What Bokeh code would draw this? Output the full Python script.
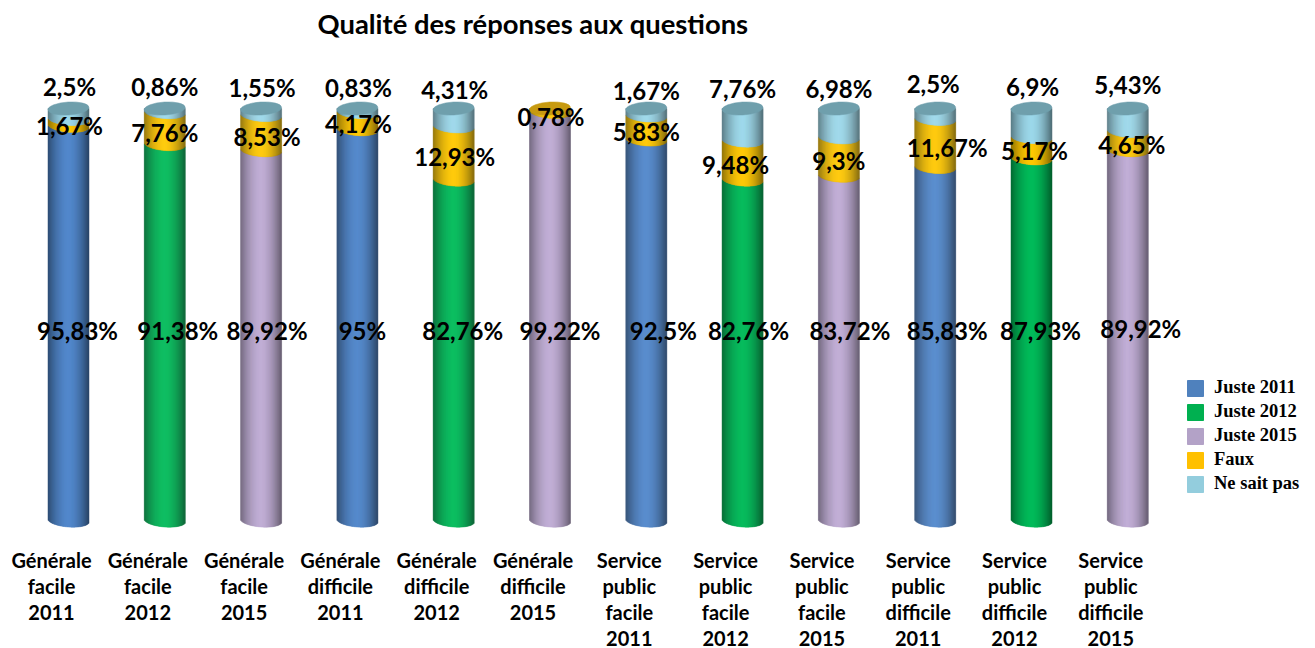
import math
from bokeh.embed import file_html
from bokeh.resources import INLINE
from bokeh.plotting import figure
from bokeh.models import ColumnDataSource, FixedTicker, Legend, LegendItem, Label
from bokeh.core.properties import value

TITLE = "Qualité des réponses aux questions"
categories = [
    "Générale\nfacile\n2011", "Générale\nfacile\n2012", "Générale\nfacile\n2015",
    "Générale\ndifficile\n2011", "Générale\ndifficile\n2012", "Générale\ndifficile\n2015",
    "Service\npublic\nfacile\n2011", "Service\npublic\nfacile\n2012", "Service\npublic\nfacile\n2015",
    "Service\npublic\ndifficile\n2011", "Service\npublic\ndifficile\n2012", "Service\npublic\ndifficile\n2015",
]
juste_series = [0, 1, 2, 0, 1, 2, 0, 1, 2, 0, 1, 2]
juste = [95.83, 91.38, 89.92, 95, 82.76, 99.22, 92.5, 82.76, 83.72, 85.83, 87.93, 89.92]
faux = [1.67, 7.76, 8.53, 4.17, 12.93, 0.78, 5.83, 9.48, 9.3, 11.67, 5.17, 4.65]
nsp = [2.5, 0.86, 1.55, 0.83, 4.31, 0, 1.67, 7.76, 6.98, 2.5, 6.9, 5.43]
series_names = ["Juste 2011", "Juste 2012", "Juste 2015", "Faux", "Ne sait pas"]

legend_colors = ["#4f81bd", "#00b050", "#b3a2c7", "#ffc000", "#93cddd"]
side_colors = ["#5288cc", "#00bb5a", "#bda9d3", "#ffc800", "#9cd8ea"]
cap_nsp = "#6f9fac"
cap_faux = "#c79a10"

# label placement (pixels relative to anchor)
juste_dx = [9, 13, 6, 5, 9, 10, 17, 6, 11, 12, 9, 13]
juste_dy = [0, 0, 0, 0, 0, 0, 0, 0, 0, 0, 0, -2]
faux_dx = [1, 0, 6, 1, 1, 1, 0, -7, 0, 12, 3, 4]
faux_dy = [3, 4, 4, 3, 4, 6, 4, 4, 4, 5, 3, 4]
nsp_dx = [1, 0, 1, 1, 1, 0, 0, 0, 0, -2, 1, 0]
nsp_dy = [-22, -22, -21, -21, -19, 0, -18, -20, -20, -25, -22, -24]

FW, FH, TOTAL_H = 1315, 540, 648
PXX = 96.3      # pixels per category
PXY = 4.12      # pixels per percent
BAR_DX = 17 / PXX
R_PX = 20.5
RY_PX = 6.5
TILT_PX = 1.5
N = 41

p = figure(width=FW, height=TOTAL_H, frame_width=FW, frame_height=FH, toolbar_location=None,
           output_backend="svg", x_range=(-51 / PXX, (1315 - 51) / PXX),
           y_range=(-20 / PXY, 100 + 108 / PXY), min_border=0, min_border_top=0,
           min_border_left=0, min_border_right=0, min_border_bottom=TOTAL_H - FH,
           outline_line_color=None, background_fill_color="white", border_fill_color="white")
p.grid.visible = False
p.yaxis.visible = False
ax = p.xaxis[0]
ax.ticker = FixedTicker(ticks=list(range(12)))
ax.major_label_overrides = {i: c for i, c in enumerate(categories)}
ax.axis_line_color = None
ax.major_tick_line_color = None
ax.minor_tick_line_color = None
ax.major_label_standoff = 1
ax.major_label_orientation = "horizontal"
ax.major_label_text_font = "Lato"
ax.major_label_text_font_style = "bold"
ax.major_label_text_font_size = "20px"
ax.major_label_text_color = "black"
ax.major_label_text_line_height = 1.09


def shade(col, t):
    r, g, b = int(col[1:3], 16), int(col[3:5], 16), int(col[5:7], 16)
    a = abs(t) ** 1.8
    f = 1 - (0.50 if t > 0 else 0.44) * a
    return "#%02x%02x%02x" % (int(r * f), int(g * f), int(b * f))


rows = dict(left=[], right=[], bottom=[], top=[], color=[])
caps = dict(x=[], y=[], color=[])
for i in range(12):
    cx = i + BAR_DX
    segs = [(0, juste[i], juste_series[i]),
            (juste[i], juste[i] + faux[i], 3),
            (juste[i] + faux[i], juste[i] + faux[i] + nsp[i], 4)]
    for s, e, ci in segs:
        if e <= s:
            continue
        for k in range(N):
            t0 = -1 + 2 * k / N
            t1 = -1 + 2 * (k + 1) / N
            t = (t0 + t1) / 2
            curve = RY_PX * math.sqrt(max(0, 1 - t * t)) + TILT_PX * t
            rows["left"].append(cx + t0 * R_PX / PXX)
            rows["right"].append(cx + t1 * R_PX / PXX)
            rows["bottom"].append(s - curve / PXY)
            rows["top"].append(e - curve / PXY if e < 99.99 else e)
            rows["color"].append(shade(side_colors[ci], t))
    caps["x"].append(cx)
    caps["y"].append(juste[i] + faux[i] + nsp[i])
    caps["color"].append(cap_nsp if nsp[i] > 0 else cap_faux)

src = ColumnDataSource(rows)
p.quad(left="left", right="right", bottom="bottom", top="top", source=src,
       fill_color="color", line_color="color", line_width=0.5)
p.ellipse(x="x", y="y", width=2 * R_PX, height=2 * RY_PX, width_units="screen", height_units="screen",
          angle=0.06, source=ColumnDataSource(caps), fill_color="color", line_color="color", line_width=0.5)

# data labels
lx, ly, lt, ldx, ldy = [], [], [], [], []
fmt = lambda v: (("%g" % v).replace(".", ",") + "%")
JUSTE_LABEL_Y = 46
for i in range(12):
    cx = i + BAR_DX
    lx.append(cx); ly.append(JUSTE_LABEL_Y); lt.append(fmt(juste[i])); ldx.append(juste_dx[i]); ldy.append(juste_dy[i])
    lx.append(cx); ly.append(juste[i] + faux[i] / 2); lt.append(fmt(faux[i])); ldx.append(faux_dx[i]); ldy.append(faux_dy[i])
    if nsp[i] > 0:
        lx.append(cx); ly.append(100); lt.append(fmt(nsp[i])); ldx.append(nsp_dx[i]); ldy.append(nsp_dy[i])
p.text(x="x", y="y", text="t", x_offset="dx", y_offset="dy",
       source=ColumnDataSource(dict(x=lx, y=ly, t=lt, dx=ldx, dy=ldy)),
       text_font=value("Lato"), text_font_style="bold", text_font_size="24px",
       text_align="center", text_baseline="middle", text_color="black")

# title
p.add_layout(Label(x=317, y=FH - 23, x_units="screen", y_units="screen", text=TITLE,
                   text_font="Lato", text_font_style="bold", text_font_size="27.4px",
                   text_color="black", text_baseline="middle", text_align="left"))

# legend
nan = float("nan")
items = []
for name, col in zip(series_names, legend_colors):
    r = p.quad(left=[nan], right=[nan], bottom=[nan], top=[nan], fill_color=col, line_color=col)
    items.append(LegendItem(label=name, renderers=[r]))
leg = Legend(items=items, location=(1185, 46), background_fill_alpha=0, border_line_color=None,
             label_text_font="Liberation Serif", label_text_font_style="bold",
             label_text_font_size="18.5px", label_text_color="black",
             glyph_width=20, glyph_height=20, label_height=20, spacing=3, margin=0, padding=6,
             label_standoff=9)
p.add_layout(leg)

open("out.html", "w").write(file_html(p, INLINE))
